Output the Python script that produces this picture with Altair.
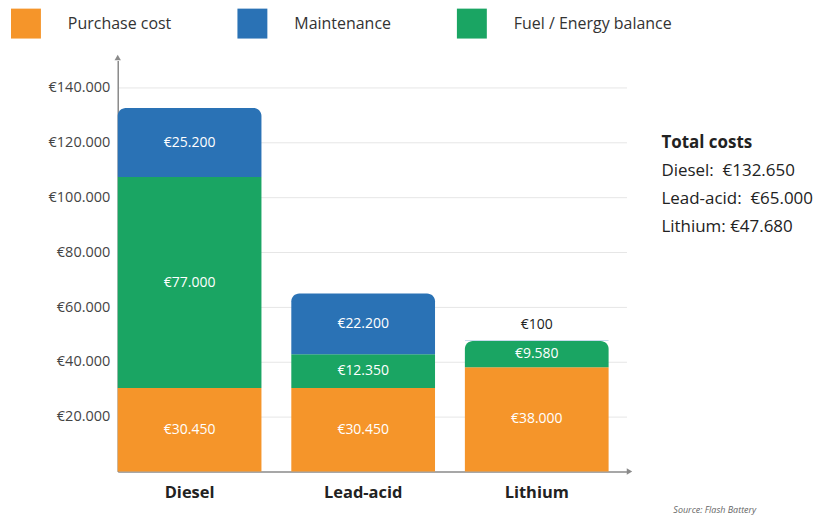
import altair as alt
import pandas as pd

# ---- data ----
categories = ["Diesel", "Lead-acid", "Lithium"]
series = ["Purchase cost", "Fuel / Energy balance", "Maintenance"]
purchase_cost = [30450, 30450, 38000]
fuel_energy = [77000, 12350, 9580]
maintenance = [25200, 22200, 100]
legend_order = ["Purchase cost", "Maintenance", "Fuel / Energy balance"]
colors = ["#F5952A", "#2A72B5", "#1AA563"]
y_ticks = [20000, 40000, 60000, 80000, 100000, 120000, 140000]
source_text = "Source: Flash Battery"

FONT = "Open Sans"
W, H = 510, 412


def euro(v):
    return "€" + f"{v:,}".replace(",", ".")


rows = []
for i, cat in enumerate(categories):
    vals = [purchase_cost[i], fuel_energy[i], maintenance[i]]
    total = sum(vals)
    base = 0
    for s, v in zip(series, vals):
        rows.append({
            "cat": cat, "series": s, "value": v,
            "y0": base, "y1": base + v, "mid": base + v / 2,
            "label": euro(v),
            "top": (base + v) >= total * 0.98,
            "small": v < 1000,
        })
        base += v
df = pd.DataFrame(rows)
totals = [purchase_cost[i] + fuel_energy[i] + maintenance[i] for i in range(3)]

xs = alt.X("cat:N", sort=categories, title=None,
           scale=alt.Scale(paddingInner=0.172, paddingOuter=0.0515, align=0),
           axis=alt.Axis(labelFont=FONT, labelFontSize=16.5, labelFontWeight="bold",
                         labelColor="#222", labelPadding=13, ticks=False,
                         domainColor="#8a8a8a", domainWidth=1.5, labelAngle=0))
ys = alt.Y("y0:Q", title=None,
           scale=alt.Scale(domain=[0, 150000], nice=False),
           axis=alt.Axis(values=y_ticks, ticks=False, labelFont=FONT, labelFontSize=14.5,
                         labelColor="#444", labelPadding=8,
                         labelExpr="'€' + replace(format(datum.value, ','), ',', '.')",
                         grid=True, gridColor="#e6e6e6", domainColor="#8a8a8a",
                         domainWidth=1.5))
color = alt.Color("series:N", scale=alt.Scale(domain=legend_order, range=colors),
                  legend=alt.Legend(title=None, orient="none", legendX=-107, legendY=-52,
                                    direction="horizontal", symbolType="square",
                                    symbolSize=900, symbolStrokeWidth=0,
                                    labelFont=FONT, labelFontSize=16, labelColor="#333",
                                    labelOffset=27, columnPadding=66))

base = alt.Chart(df)
bars_flat = base.transform_filter("!datum.top").mark_bar().encode(
    x=xs, y=ys, y2="y1:Q", color=color)
bars_top = base.transform_filter("datum.top").mark_bar(
    cornerRadiusTopLeft=8, cornerRadiusTopRight=8).encode(
    x=xs, y=ys, y2="y1:Q", color=color)

labels_in = base.transform_filter("!datum.small").mark_text(
    font=FONT, fontSize=14, color="white", baseline="middle").encode(
    x=alt.X("cat:N", sort=categories), y=alt.Y("mid:Q"), text="label:N")
labels_out = base.transform_filter("datum.small").mark_text(
    font=FONT, fontSize=14, color="#222", baseline="middle", dy=-16).encode(
    x=alt.X("cat:N", sort=categories), y=alt.Y("y1:Q"), text="label:N")

one = alt.Chart(pd.DataFrame({"a": [0]}))
arrow_y = one.mark_point(shape="triangle-up", filled=True, size=40, color="#8a8a8a",
                         opacity=1).encode(x=alt.value(0), y=alt.value(-3))
arrow_x = one.mark_point(shape="triangle-right", filled=True, size=40, color="#8a8a8a",
                         opacity=1).encode(x=alt.value(W + 3), y=alt.value(H))

NB = "\u00a0"
text_layers = []
lines = [("Total costs", "bold")] + [
    (f"{categories[0]}:{NB} {euro(totals[0])}", "normal"),
    (f"{categories[1]}:{NB} {euro(totals[1])}", "normal"),
    (f"{categories[2]}: {euro(totals[2])}", "normal"),
]
for k, (t, wgt) in enumerate(lines):
    text_layers.append(
        one.mark_text(font=FONT, fontSize=17, fontWeight=wgt, color="#222",
                      align="left", baseline="middle", text=t)
        .encode(x=alt.value(545), y=alt.value(83 + 28 * k)))
text_layers.append(
    one.mark_text(font=FONT, fontSize=9, fontStyle="italic", color="#666",
                  align="left", baseline="middle", text=source_text)
    .encode(x=alt.value(557), y=alt.value(451)))

chart = alt.layer(bars_flat, bars_top, labels_in, labels_out, arrow_y, arrow_x,
                  *text_layers).properties(
    width=W, height=H,
    autosize=alt.AutoSizeParams(type="none"),
    padding={"left": 110, "top": 52, "right": 196, "bottom": 46},
).configure_view(stroke=None)

chart.save("out.html", embed_options={"renderer": "svg", "actions": False})
